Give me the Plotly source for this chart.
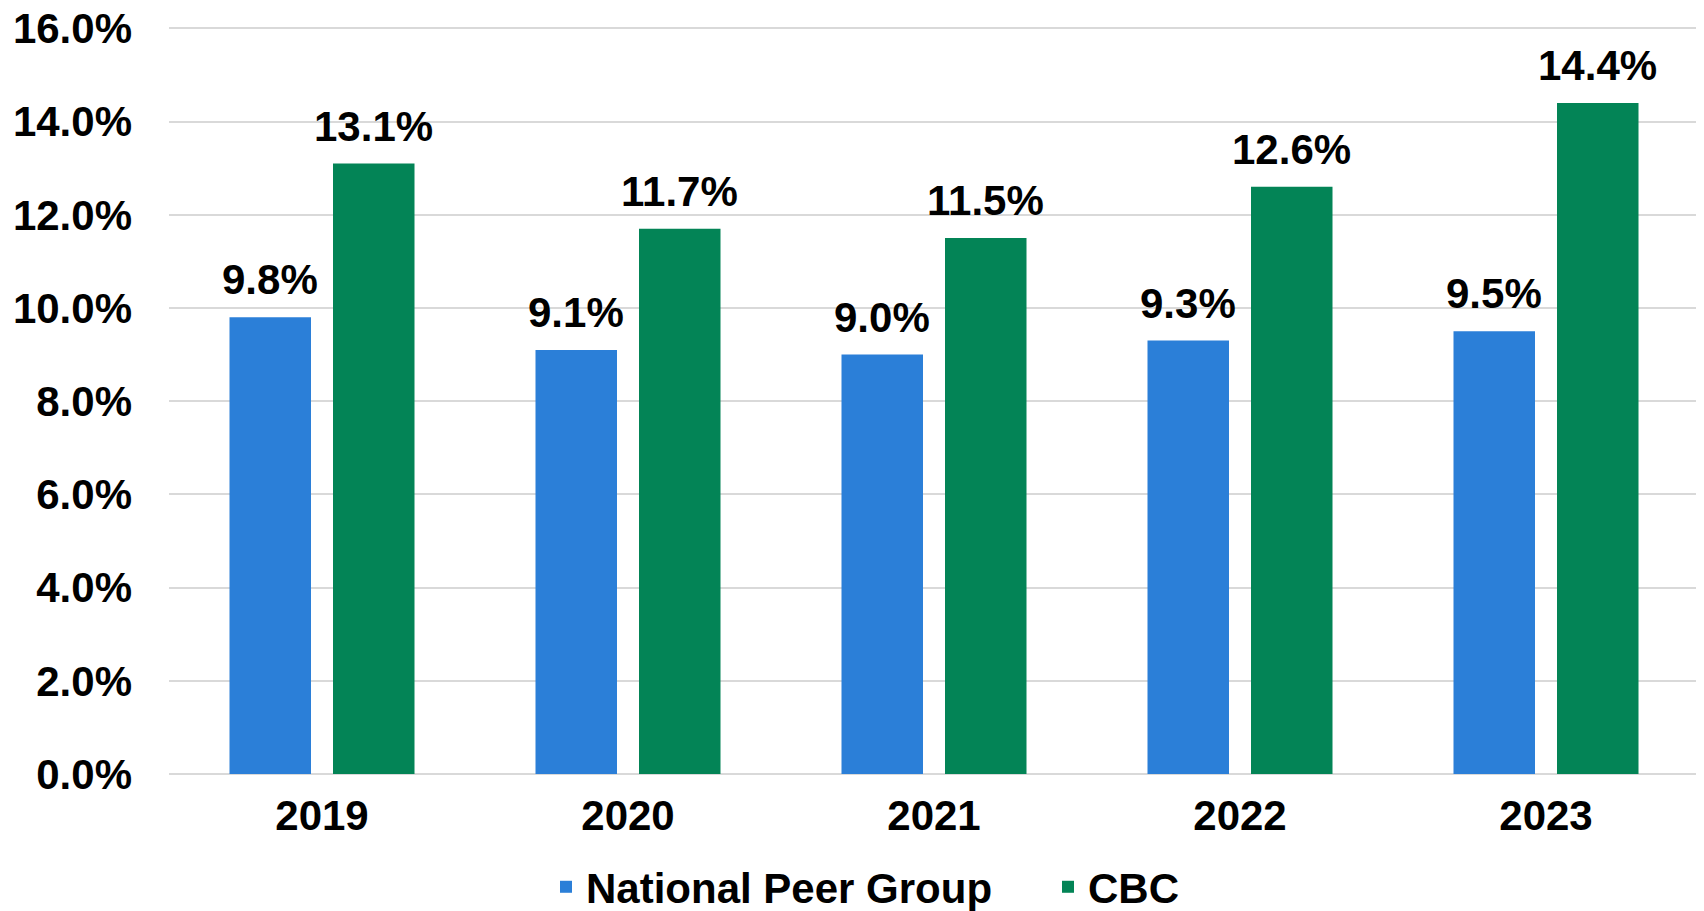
import plotly.graph_objects as go

years = ["2019", "2020", "2021", "2022", "2023"]
peer_values = [9.8, 9.1, 9.0, 9.3, 9.5]
cbc_values = [13.1, 11.7, 11.5, 12.6, 14.4]
series_names = ["National Peer Group", "CBC"]
colors = ["#2B7FD8", "#038456"]
tick_values = [0, 2, 4, 6, 8, 10, 12, 14, 16]
tick_labels = ["0.0%", "2.0%", "4.0%", "6.0%", "8.0%", "10.0%", "12.0%", "14.0%", "16.0%"]

FONT = "Liberation Sans, Arial, sans-serif"
BOLD42 = dict(family=FONT, size=42, color="black", weight="bold")

fig = go.Figure()
for name, vals, col in zip(series_names, [peer_values, cbc_values], colors):
    fig.add_trace(go.Bar(
        x=years, y=vals, name=name,
        marker=dict(color=col, line=dict(width=0)),
    ))

# data labels anchored at the data values (category index), shifted to each bar's centre
bar_shift = [-51.75, 51.75]
for shift, vals in zip(bar_shift, [peer_values, cbc_values]):
    for idx, v in enumerate(vals):
        fig.add_annotation(
            x=idx, y=v, xref="x", yref="y", text=f"{v:.1f}%",
            showarrow=False, xanchor="center", yanchor="bottom",
            xshift=shift, yshift=12, font=BOLD42,
        )

fig.update_layout(
    width=1696, height=903,
    margin=dict(l=161, r=5, t=19, b=137),
    plot_bgcolor="white", paper_bgcolor="white",
    barmode="group", bargap=0.3235, bargroupgap=0.2126,
    font=BOLD42,
    showlegend=True,
    legend=dict(
        orientation="h", x=0.2464, xanchor="left",
        yref="container", y=0.0266, yanchor="middle",
        font=BOLD42, entrywidth=457,
        itemwidth=30, traceorder="normal",
    ),
    yaxis=dict(
        range=[0, 16.03], autorange=False,
        tickvals=tick_values, ticktext=tick_labels,
        showgrid=True, gridcolor="#d9d9d9", gridwidth=1.5,
        zeroline=True, zerolinecolor="#d9d9d9", zerolinewidth=2,
        showline=False, ticks="", ticklabelstandoff=36,
        ticklabeloverflow="allow", automargin=False,
        tickfont=BOLD42,
    ),
    xaxis=dict(
        type="category", categoryorder="array", categoryarray=years,
        range=[-0.5, len(years) - 0.5], autorange=False,
        showline=False, ticks="", ticklabelstandoff=13,
        tickfont=BOLD42,
    ),
)

fig.write_html("out.html")
